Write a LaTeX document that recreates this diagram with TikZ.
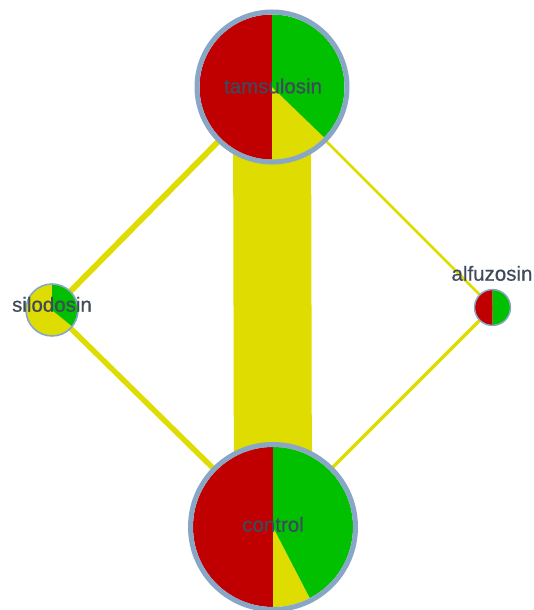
\documentclass[tikz,border=0pt]{standalone}
\usepackage{fontspec}
\setmainfont{Liberation Sans}
\newfontfamily\lblfont[FakeBold=0.6]{Liberation Sans}
\definecolor{pred}{RGB}{192,0,0}
\definecolor{pgreen}{RGB}{0,192,0}
\definecolor{pyel}{RGB}{222,220,0}
\definecolor{bord}{RGB}{136,166,198}
\definecolor{txt}{RGB}{62,74,92}
\tikzset{
  edge/.style={draw=pyel, line cap=butt},
  lbl/.style={text=txt, inner sep=0pt, anchor=base, font=\lblfont\fontsize{20.5}{24}\selectfont},
  ring/.style={circle, draw=bord, fill=none, inner sep=0pt}
}
\begin{document}
\begin{tikzpicture}[x=1pt,y=1pt]
\useasboundingbox (0,0) rectangle (534,610);
% centres
\coordinate (tam) at (272,523);
\coordinate (ctl) at (273,83);
\coordinate (sil) at (52,300);
\coordinate (alf) at (492.5,302.5);
% edges
\draw[edge, line width=78pt] (tam) -- (ctl);
\draw[edge, line width=5.8pt] (tam) -- (sil);
\draw[edge, line width=5.4pt] (sil) -- (ctl);
\draw[edge, line width=2.8pt] (tam) -- (alf);
\draw[edge, line width=3.4pt] (alf) -- (ctl);
% tamsulosin pie
\fill[pred] (tam) -- ++(90:72.5) arc[start angle=90, end angle=270, radius=72.5] -- cycle;
\fill[pyel] (tam) -- ++(270:72.5) arc[start angle=270, end angle=316, radius=72.5] -- cycle;
\fill[pgreen] (tam) -- ++(-44:72.5) arc[start angle=-44, end angle=90, radius=72.5] -- cycle;
\node[ring, line width=5pt, minimum size=150pt] (tamring) at (tam) {};
% control pie
\fill[pred] (ctl) -- ++(90:80) arc[start angle=90, end angle=270, radius=80] -- cycle;
\fill[pyel] (ctl) -- ++(270:80) arc[start angle=270, end angle=297.4, radius=80] -- cycle;
\fill[pgreen] (ctl) -- ++(-62.6:80) arc[start angle=-62.6, end angle=90, radius=80] -- cycle;
\node[ring, line width=5pt, minimum size=165pt] (ctlring) at (ctl) {};
% silodosin pie
\fill[pyel] (sil) -- ++(90:25.5) arc[start angle=90, end angle=321, radius=25.5] -- cycle;
\fill[pgreen] (sil) -- ++(-39:25.5) arc[start angle=-39, end angle=90, radius=25.5] -- cycle;
\node[ring, line width=1.6pt, minimum size=52pt] (silring) at (sil) {};
% alfuzosin pie
\fill[pred] (alf) -- ++(90:17.5) arc[start angle=90, end angle=270, radius=17.5] -- cycle;
\fill[pgreen] (alf) -- ++(270:17.5) arc[start angle=270, end angle=450, radius=17.5] -- cycle;
\node[ring, line width=1.4pt, minimum size=36pt] (alfring) at (alf) {};
% labels
\node[lbl] (tamlbl) at (273,516.7) {tamsulosin};
\node[lbl] (ctllbl) at (273,78.3) {control};
\node[lbl] (sillbl) at (52,298.3) {silodosin};
\node[lbl] (alflbl) at (492,329.3) {alfuzosin};
\end{tikzpicture}
\end{document}
